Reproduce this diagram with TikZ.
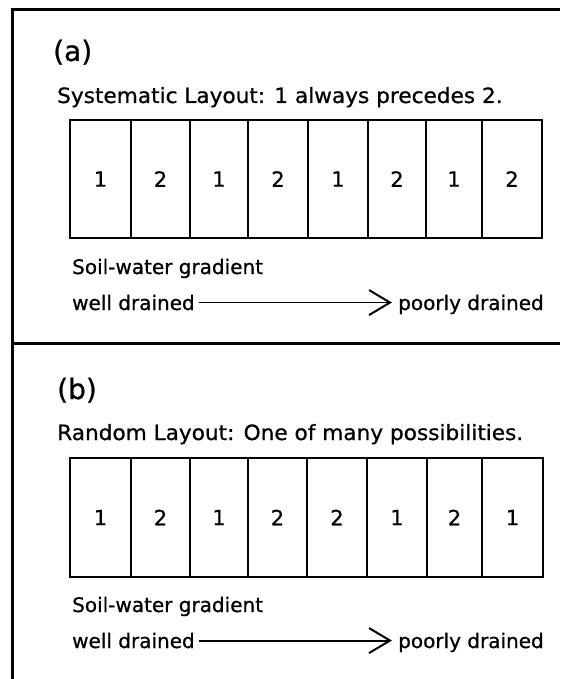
\documentclass[tikz,border=0pt]{standalone}
\usepackage{fontspec}
\setmainfont[FakeBold=0.8]{DejaVu Sans}
\usetikzlibrary{arrows.meta}
\begin{document}
\begin{tikzpicture}[x=1pt,y=-1pt,
  cell/.style={draw,line width=1.6pt,minimum height=118pt,inner sep=0pt,font=\fontsize{21}{21}\selectfont},
  lbl/.style={anchor=base west,inner sep=0pt,font=\fontsize{20}{20}\selectfont},
  ttl/.style={anchor=base west,inner sep=0pt,font=\fontsize{21}{21}\selectfont},
  panel/.style={anchor=base west,inner sep=0pt,font=\fontsize{28}{28}\selectfont},
  frame/.style={line width=3pt},
  grad/.style={line width=1.9pt,-{Straight Barb[length=21pt,width=25pt,line width=2pt]},shorten >=6pt,shorten <=4pt}
]
\useasboundingbox (0,0) rectangle (560,679);
% outer frame
\coordinate (fbl) at (12,679);
\coordinate (ftl) at (12,10);
\coordinate (ftr) at (560,10);
\coordinate (fml) at (12,343);
\coordinate (fmr) at (560,343);
\draw[frame] (fbl) -- (ftl) -- (ftr);
\draw[frame] (fml) -- (fmr);

% panel (a)
\node[panel] (pa) at (53,61) {(a)};
\node[ttl] (ta) at (57,103) {\scalebox{1.03}[1]{Systematic Layout: 1 always precedes 2.}};
\foreach \l/\r/\d [count=\i] in {70/131/1,131/190/2,190/248/1,248/308/2,308/368/1,368/426/2,426/482/1,482/542/2}
  \node[cell,minimum width={(\r-\l)*1pt}] (a\i) at ({(\l+\r)/2},179) {\d};
\node[lbl] (sa) at (72,274) {Soil-water gradient};
\node[lbl] (wa) at (72,310) {well drained};
\node[lbl] (pra) at (398,310) {poorly drained};
\draw[grad] (wa.east) -- (wa.east -| pra.west);

% panel (b)
\node[panel] (pb) at (57,399) {(b)};
\node[ttl] (tb) at (57,440) {\scalebox{1.03}[1]{Random Layout: One of many possibilities.}};
\foreach \l/\r/\d [count=\i] in {70/131/1,131/190/2,190/248/1,248/307/2,307/367/2,367/427/1,427/482/2,482/543/1}
  \node[cell,minimum width={(\r-\l)*1pt},minimum height=119pt] (b\i) at ({(\l+\r)/2},517.5) {\d};
\node[lbl] (sb) at (72,612) {Soil-water gradient};
\node[lbl] (wb) at (72,648) {well drained};
\node[lbl] (prb) at (398,648) {poorly drained};
\draw[grad] (wb.east) -- (wb.east -| prb.west);
\end{tikzpicture}
\end{document}
